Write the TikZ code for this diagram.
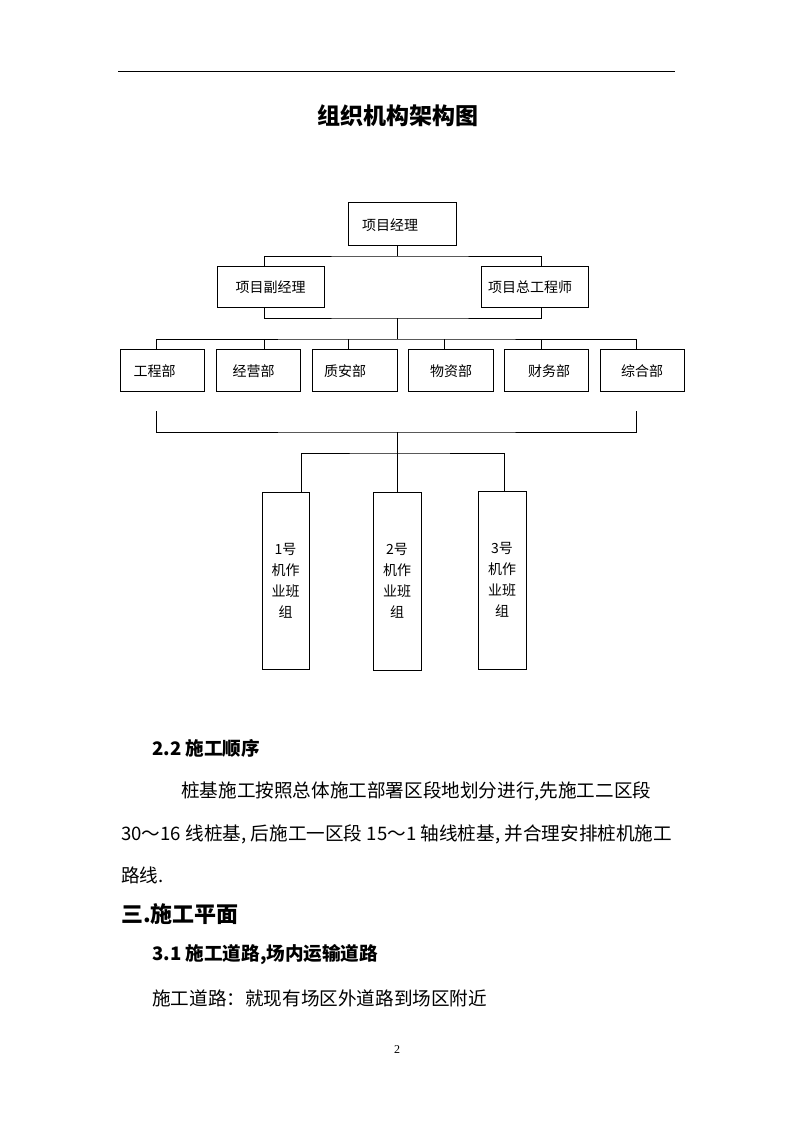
\documentclass[tikz,border=0pt]{standalone}
\usepackage{fontspec}
\setmainfont{Noto Sans CJK SC}
\newfontfamily\pnum{Liberation Serif}
\XeTeXlinebreaklocale "zh"
\XeTeXlinebreakskip=0pt plus 3pt
\begin{document}
\begin{tikzpicture}[x=1pt,y=-1pt,
  box/.style={draw,line width=1pt,inner sep=0pt},
  lbl/.style={inner sep=0pt,font=\fontsize{14}{14}\selectfont},
  body/.style={inner sep=0pt,anchor=west,font=\fontsize{18.6}{18.6}\selectfont},
  conn/.style={line width=1pt}]
\useasboundingbox (0,0) rectangle (794,1123);
\fill[white] (0,0) rectangle (794,1123);
% header rule
\coordinate (rl) at (118,72);
\coordinate (rr) at (675,72);
\draw[line width=1pt] (rl) -- (rr);
\node[inner sep=0pt,font=\fontsize{23}{23}\selectfont\bfseries] (title) at (398,116) {组织机构架构图};
% top level
\node[box,minimum width=108,minimum height=42] (pm) at (402,224) {};
\node[lbl,anchor=west] (pmt) at (362,225) {项目经理};
\node[box,minimum width=107,minimum height=41] (dep) at (270.5,286.5) {};
\node[lbl] (dept) at (270.5,287) {项目副经理};
\node[box,minimum width=107,minimum height=41] (chf) at (534.5,286.5) {};
\node[lbl] (chft) at (530,287) {项目总工程师};
% departments
\foreach \n/\cx/\w/\tx/\t in {d1/162/84/154.5/工程部, d2/258/84/253.5/经营部, d3/354.5/85/345/质安部, d4/450.5/85/451/物资部, d5/546/84/549/财务部, d6/642/84/642/综合部}{
  \node[box,minimum width=\w,minimum height=42] (\n) at (\cx,370) {};
  \node[lbl] (\n t) at (\tx,371) {\t};
}
% groups
\node[box,minimum width=47,minimum height=177,align=center,font=\fontsize{14}{21}\selectfont] (g1) at (285.5,580.5) {1号\\机作\\业班\\组};
\node[box,minimum width=48,minimum height=178,align=center,font=\fontsize{14}{21}\selectfont] (g2) at (397,581) {2号\\机作\\业班\\组};
\node[box,minimum width=48,minimum height=178,align=center,font=\fontsize{14}{21}\selectfont] (g3) at (502,580) {3号\\机作\\业班\\组};
% connector coordinates
\coordinate (b1) at (397,256);
\coordinate (b2) at (397,318);
\coordinate (b3) at (397,339);
\coordinate (b4) at (397,432);
\coordinate (b5) at (397,453);
\coordinate (vL) at (264,0);
\coordinate (vR) at (541,0);
\coordinate (x1) at (156,0);
\coordinate (x3) at (348,0);
\coordinate (x4) at (444,0);
\coordinate (x6) at (636,0);
\coordinate (eL) at (156,411);
\coordinate (eR) at (636,411);
\coordinate (gx1) at (301,0);
\coordinate (gx3) at (504,0);
% connectors
\draw[conn] (b1 |- pm.south) -- (b1);
\draw[conn] (vL |- dep.north) |- (b1) -| (vR |- chf.north);
\draw[conn] (vL |- dep.south) |- (b2) -| (vR |- chf.south);
\draw[conn] (b2) -- (b3);
\draw[conn] (x1 |- d1.north) |- (b3) -| (x6 |- d6.north);
\draw[conn] (vL |- b3) -- (vL |- d2.north);
\draw[conn] (x3 |- b3) -- (x3 |- d3.north);
\draw[conn] (x4 |- b3) -- (x4 |- d4.north);
\draw[conn] (vR |- b3) -- (vR |- d5.north);
\draw[conn] (eL) |- (b4) -| (eR);
\draw[conn] (b4) -- (b5);
\draw[conn] (gx1 |- g1.north) |- (b5) -| (gx3 |- g3.north);
\draw[conn] (b5) -- (g2.north);
% body text
\node[body,font=\fontsize{18.6}{18.6}\selectfont\bfseries] (h22) at (152,748) {2.2 施工顺序};
\node[body] (p1) at (181,791) {\makebox[491pt][s]{桩基施工按照总体施工部署区段地划分进行,先施工二区段}};
\node[body] (p2) at (121,834) {\makebox[551pt][s]{30～16 线桩基, 后施工一区段 15～1 轴线桩基, 并合理安排桩机施工}};
\node[body] (p3) at (121,875) {路线.};
\node[body,font=\fontsize{22}{22}\selectfont\bfseries] (h3) at (121,914) {三.施工平面};
\node[body,font=\fontsize{18.6}{18.6}\selectfont\bfseries] (h31) at (152,955) {3.1 施工道路,场内运输道路};
\node[body] (p4) at (152,998) {施工道路：就现有场区外道路到场区附近};
\node[inner sep=0pt,font=\pnum\fontsize{12}{12}\selectfont] (pg) at (397,1050) {2};
\end{tikzpicture}
\end{document}
